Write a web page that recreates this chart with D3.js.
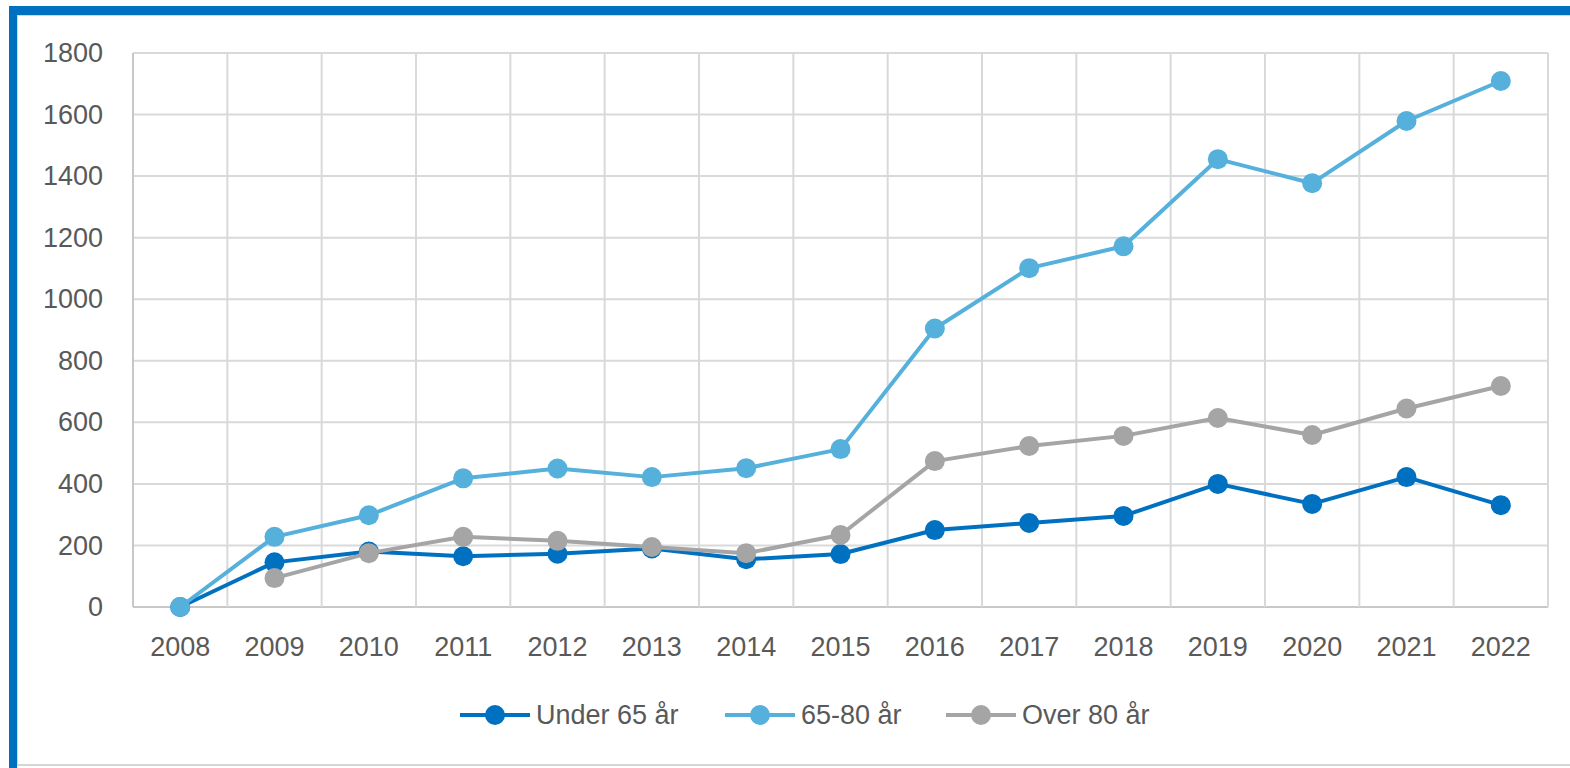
<!DOCTYPE html>
<html>
<head>
<meta charset="utf-8">
<script src="https://cdn.jsdelivr.net/npm/d3@7"></script>
<style>
  body { margin: 0; background: #fff; }
  svg { display: block; }
  text { font-family: "Liberation Sans", Arial, sans-serif; fill: #595959; }
</style>
</head>
<body>
<svg id="chart" width="1570" height="768"></svg>
<script>
// data
var years = ["2008", "2009", "2010", "2011", "2012", "2013", "2014", "2015",
             "2016", "2017", "2018", "2019", "2020", "2021", "2022"];
var under65 = [0, 145, 180, 165, 173, 190, 155, 172, 250, 273, 296, 400, 335, 422, 331];
var age6580 = [0, 228, 298, 418, 450, 422, 451, 513, 905, 1101, 1172, 1455, 1377, 1579, 1709];
var over80 = [null, 94, 175, 228, 215, 195, 175, 234, 474, 523, 556, 614, 559, 645, 718];
var yTicks = [0, 200, 400, 600, 800, 1000, 1200, 1400, 1600, 1800];
var seriesNames = ["Under 65 år", "65-80 år", "Over 80 år"];
var seriesColors = ["#0070C0", "#56B0DC", "#A5A5A5"];

var series = [under65, age6580, over80].map(function (vals, i) {
    return { name: seriesNames[i], color: seriesColors[i], values: vals };
});

var svg = d3.select("#chart");

// outer frame
svg.append("rect").attr("x", 17).attr("y", 15).attr("width", 1560).attr("height", 750)
    .attr("fill", "#fff").attr("stroke", "#d6d6d6").attr("stroke-width", 2);
svg.append("rect").attr("x", 9).attr("y", 6).attr("width", 1561).attr("height", 9).attr("fill", "#0070C0");
svg.append("rect").attr("x", 9).attr("y", 6).attr("width", 8).attr("height", 762).attr("fill", "#0070C0");

var margin = { left: 133, right: 1548, top: 53, bottom: 607 };

var x = d3.scaleBand().domain(years).range([margin.left, margin.right]);
var y = d3.scaleLinear().domain([0, 1800]).range([margin.bottom, margin.top]);

var grid = svg.append("g");
// horizontal gridlines
grid.selectAll("line.h").data(yTicks).enter().append("line")
    .attr("x1", margin.left).attr("x2", margin.right)
    .attr("y1", function (d) { return y(d); }).attr("y2", function (d) { return y(d); })
    .attr("stroke", function (d) { return d === 0 ? "#c8c8c8" : "#d9d9d9"; })
    .attr("stroke-width", 2);
// vertical gridlines at category boundaries
var bounds = years.map(function (d) { return x(d); }).concat([margin.right]);
grid.selectAll("line.v").data(bounds).enter().append("line")
    .attr("x1", function (d) { return d; }).attr("x2", function (d) { return d; })
    .attr("y1", margin.top).attr("y2", margin.bottom)
    .attr("stroke", function (d, i) { return i === 0 ? "#c8c8c8" : "#d9d9d9"; })
    .attr("stroke-width", 2);

// y axis labels
var yAxis = d3.axisLeft(y).tickValues(yTicks).tickFormat(d3.format("d")).tickSize(0).tickPadding(30);
svg.append("g").attr("transform", "translate(" + margin.left + ",0)").call(yAxis)
    .call(function (g) { g.select(".domain").remove(); })
    .selectAll("text").attr("font-size", 27).attr("fill", "#595959")
    .attr("font-family", "Liberation Sans, Arial, sans-serif");

// x axis labels
var xAxis = d3.axisBottom(x).tickSize(0).tickPadding(30);
svg.append("g").attr("transform", "translate(0," + margin.bottom + ")").call(xAxis)
    .call(function (g) { g.select(".domain").remove(); })
    .selectAll("text").attr("font-size", 27).attr("fill", "#595959")
    .attr("font-family", "Liberation Sans, Arial, sans-serif");

var line = d3.line()
    .defined(function (d) { return d != null; })
    .x(function (d, i) { return x(years[i]) + x.bandwidth() / 2; })
    .y(function (d) { return y(d); });

series.forEach(function (s) {
    var g = svg.append("g");
    g.append("path").datum(s.values).attr("d", line)
        .attr("fill", "none").attr("stroke", s.color).attr("stroke-width", 4)
        .attr("stroke-linejoin", "round");
    g.selectAll("circle").data(s.values.map(function (v, i) { return { v: v, i: i }; })
        .filter(function (d) { return d.v != null; }))
        .enter().append("circle")
        .attr("cx", function (d) { return x(years[d.i]) + x.bandwidth() / 2; })
        .attr("cy", function (d) { return y(d.v); })
        .attr("r", 10).attr("fill", s.color);
});

// legend
var legendX = [460, 725, 946];
var legend = svg.append("g");
series.forEach(function (s, i) {
    var lg = legend.append("g").attr("transform", "translate(" + legendX[i] + ",715)");
    lg.append("line").attr("x1", 0).attr("x2", 70).attr("y1", 0).attr("y2", 0)
        .attr("stroke", s.color).attr("stroke-width", 4);
    lg.append("circle").attr("cx", 35).attr("cy", 0).attr("r", 10).attr("fill", s.color);
    lg.append("text").attr("x", 76).attr("y", 0).attr("dy", "0.35em")
        .attr("font-size", 27).text(s.name);
});
</script>
</body>
</html>
